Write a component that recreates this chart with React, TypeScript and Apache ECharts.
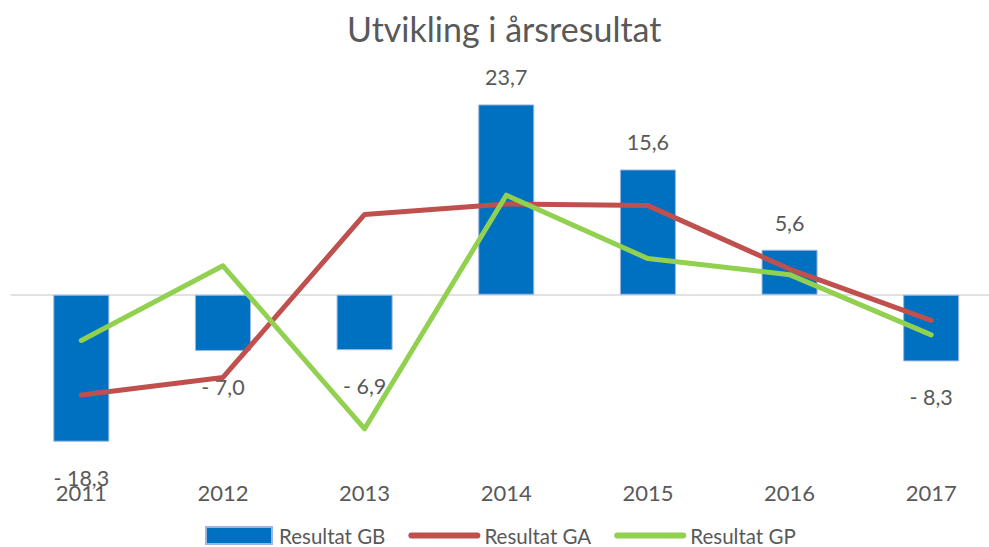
import React, { useEffect, useRef } from "react";
import * as echarts from "echarts";

const years = ["2011", "2012", "2013", "2014", "2015", "2016", "2017"];
const resultatGB = [-18.3, -7.0, -6.9, 23.7, 15.6, 5.6, -8.3];
const resultatGA = [-12.5, -10.3, 10.0, 11.3, 11.1, 3.2, -3.2];
const resultatGP = [-5.7, 3.6, -16.7, 12.4, 4.5, 2.5, -5.0];

const FONT = "Lato, 'Open Sans', sans-serif";
const TEXT = "#595959";

function fmt(v: number): string {
  const s = Math.abs(v).toFixed(1).replace(".", ",");
  return v < 0 ? "- " + s : s;
}

export default function App() {
  const ref = useRef<HTMLDivElement>(null);
  useEffect(() => {
    if (!ref.current) return;
    const chart = echarts.init(ref.current, null, { renderer: "svg" });
    chart.setOption({
      animation: false,
      backgroundColor: "#ffffff",
      title: {
        text: "Utvikling i årsresultat",
        left: 342,
        top: 6,
        textStyle: { fontFamily: FONT, fontSize: 34, fontWeight: "normal", color: TEXT },
      },
      legend: {
        left: 200,
        top: 520,
        padding: [5, 5, 0, 5],
        itemWidth: 66,
        itemHeight: 17,
        itemGap: 23,
        textStyle: {
          fontFamily: FONT,
          fontSize: 20.5,
          lineHeight: 17,
          color: TEXT,
          padding: [0, 0, 0, 2],
        },
        lineStyle: { width: 6, cap: "round" },
        data: [
          { name: "Resultat GB", icon: "rect" },
          { name: "Resultat GA", itemStyle: { opacity: 0 } },
          { name: "Resultat GP", itemStyle: { opacity: 0 } },
        ],
      },
      grid: { left: 10.5, right: 0, top: 94, height: 381.4 },
      xAxis: {
        type: "category",
        data: years,
        axisLine: { show: false },
        axisTick: { show: false },
        axisLabel: { fontFamily: FONT, fontSize: 22, color: TEXT, margin: 6 },
      },
      yAxis: {
        type: "value",
        min: -22.5,
        max: 25,
        show: false,
        splitLine: { show: false },
      },
      series: [
        {
          name: "Resultat GB",
          type: "bar",
          barWidth: 56,
          itemStyle: { color: "#0070C0", borderColor: "#9DB3E0", borderWidth: 1 },
          data: resultatGB.map((v) => ({
            value: v,
            label: {
              show: true,
              position: v < 0 ? "bottom" : "top",
              distance: v < 0 ? 25 : 16,
              formatter: () => fmt(v),
              fontFamily: FONT,
              fontSize: 21.5,
              color: TEXT,
            },
          })),
          markLine: {
            silent: true,
            symbol: "none",
            label: { show: false },
            lineStyle: { color: "#D9D9D9", width: 1.5, type: "solid" },
            data: [{ yAxis: 0 }],
            z: 1,
          },
        },
        {
          name: "Resultat GA",
          type: "line",
          data: resultatGA,
          symbol: "none",
          showSymbol: false,
          lineStyle: { color: "#C0504D", width: 5, cap: "round", join: "round" },
          itemStyle: { color: "#C0504D" },
          z: 3,
        },
        {
          name: "Resultat GP",
          type: "line",
          data: resultatGP,
          symbol: "none",
          showSymbol: false,
          lineStyle: { color: "#92D050", width: 5, cap: "round", join: "round" },
          itemStyle: { color: "#92D050" },
          z: 4,
        },
      ],
    });
    return () => chart.dispose();
  }, []);
  return (
    <div
      ref={ref}
      style={{ position: "fixed", left: 0, top: 0, width: 1002, height: 547 }}
    />
  );
}
